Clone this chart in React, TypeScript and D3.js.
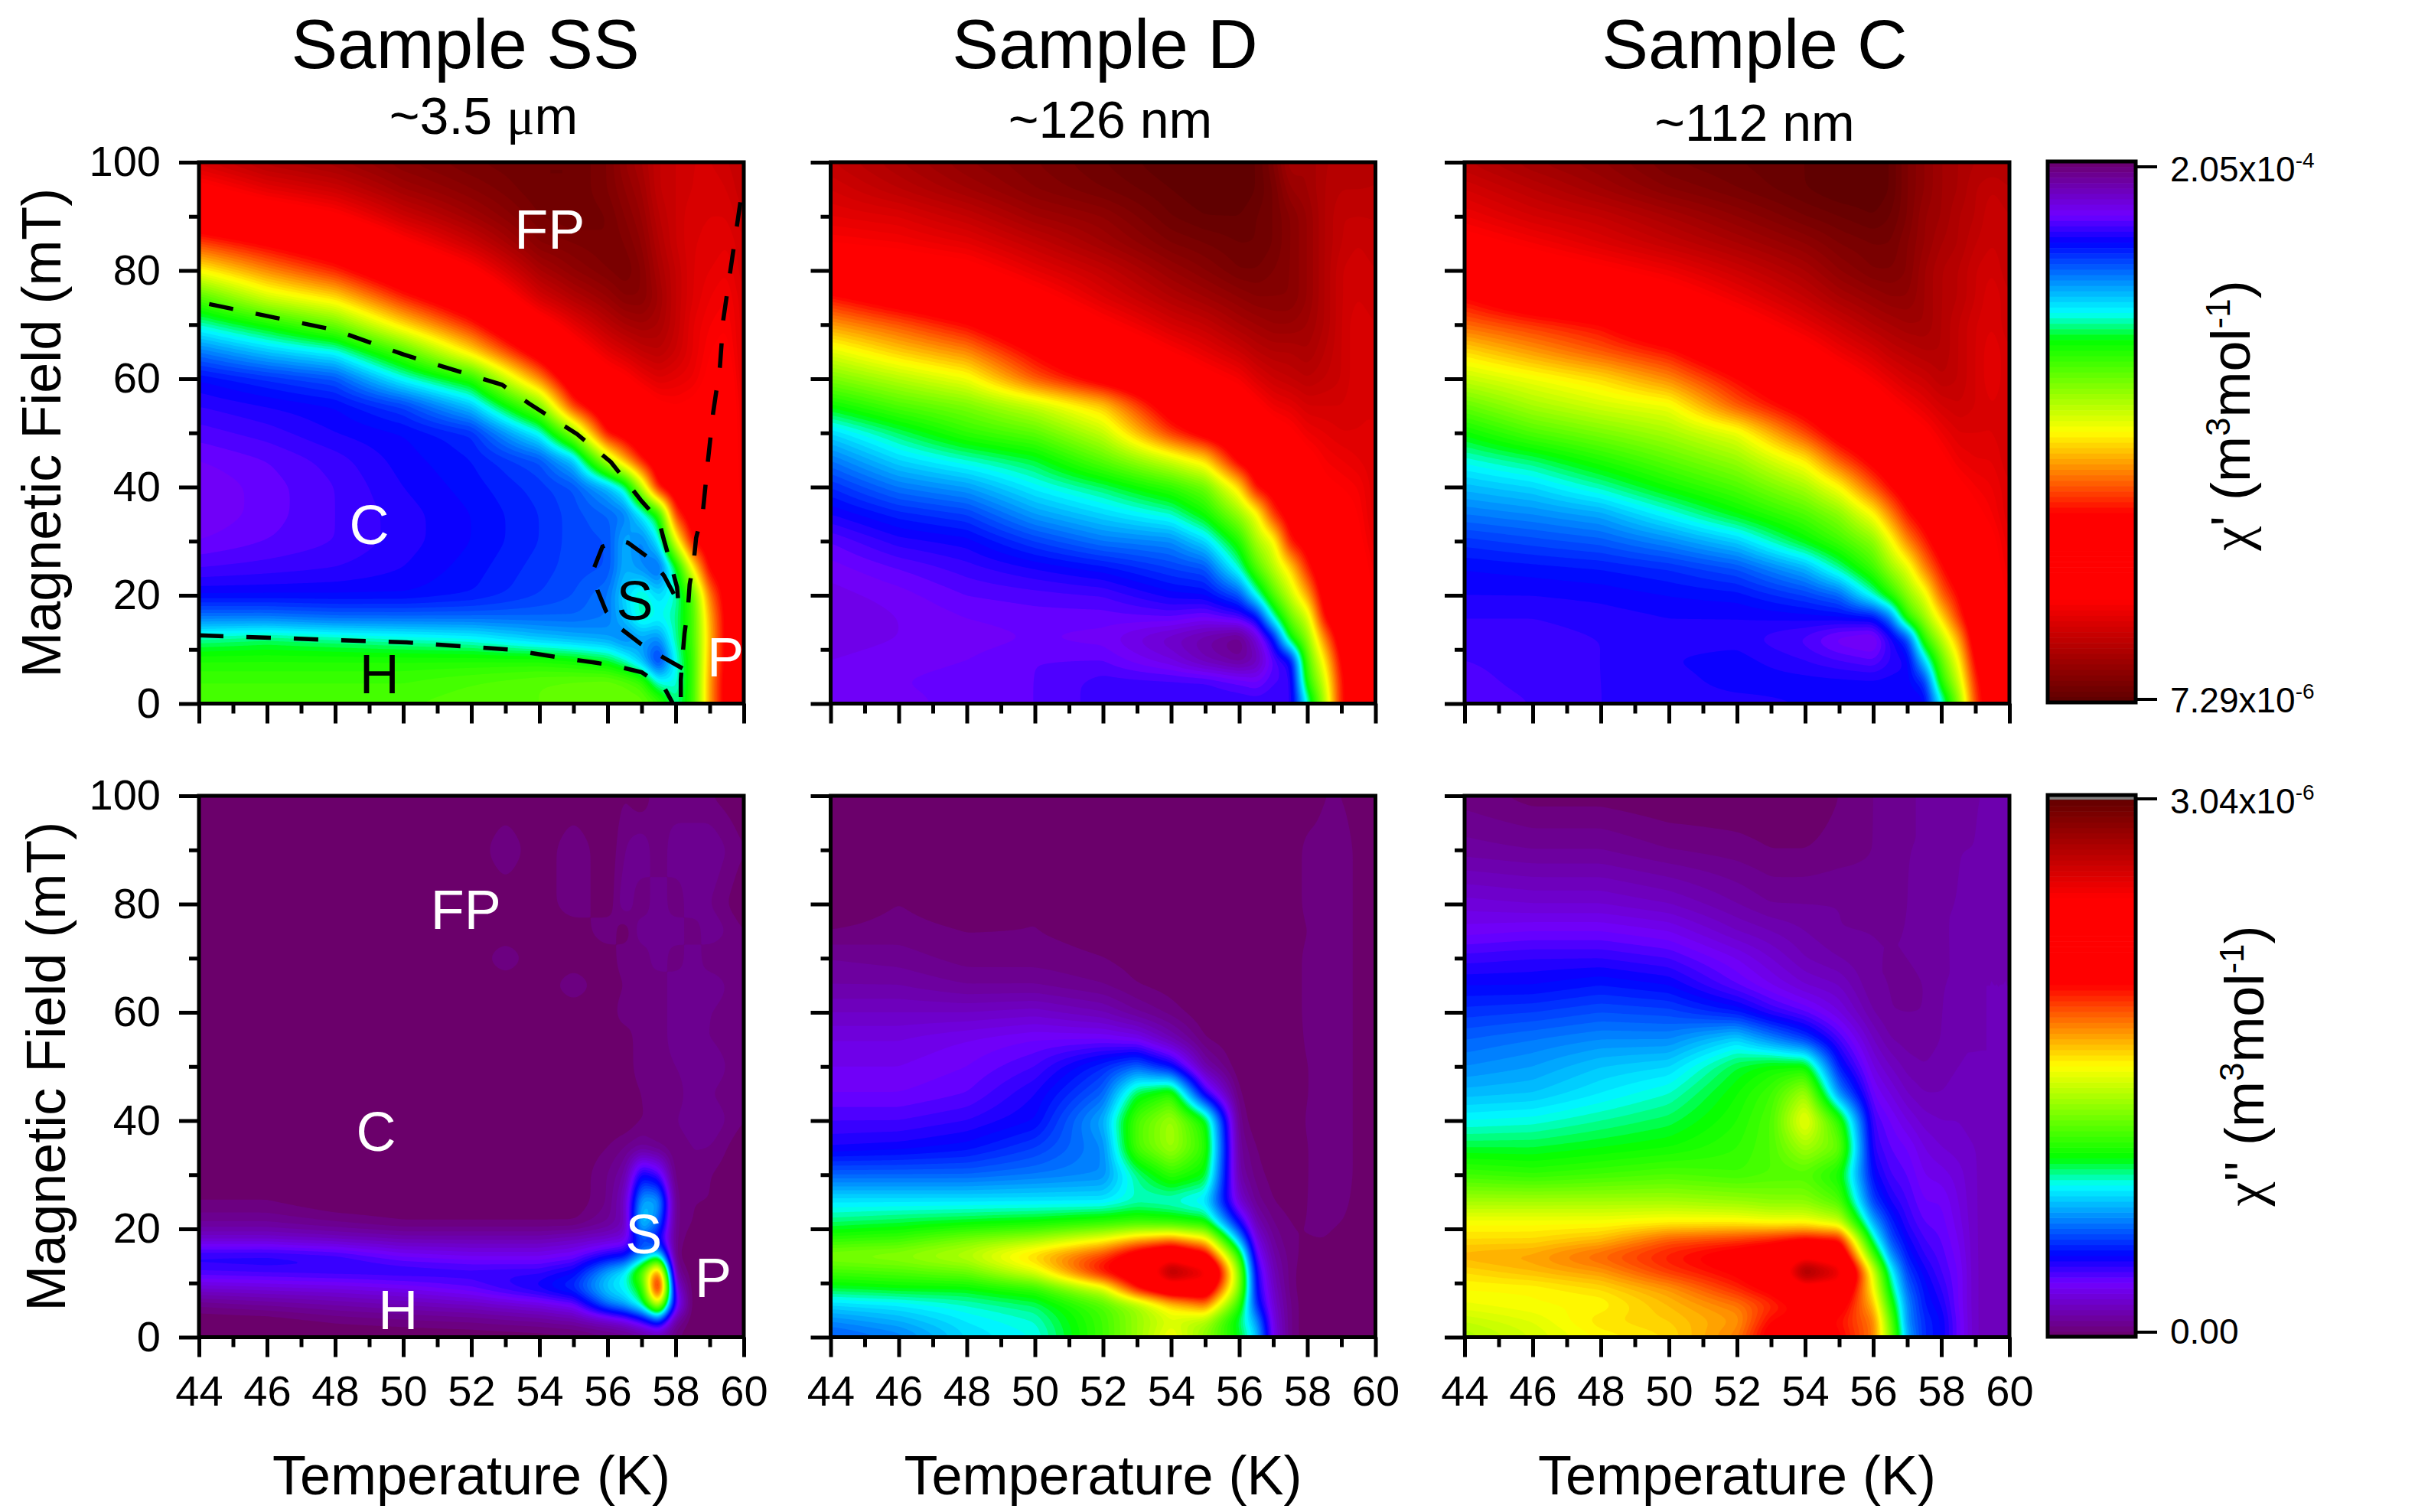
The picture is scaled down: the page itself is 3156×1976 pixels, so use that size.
import { useEffect, useRef } from "react"
import * as d3 from "d3"

// All grid values are positions on the colour bar:
// 0 = purple end, 100 = maroon end. Each inner list is one temperature column, field ascending.
const upperT = [44, 46, 48, 50, 52, 54, 55, 56, 56.5, 57, 57.5, 58, 58.5, 59, 59.5, 60]
const upperB = [0, 4, 8, 12, 16, 20, 25, 30, 35, 40, 45, 50, 55, 60, 65, 70, 75, 80, 85, 90, 95, 100]
const lowerT = [44, 46, 48, 50, 52, 53, 54, 55, 56, 56.5, 57, 57.5, 58, 58.5, 59, 60]
const lowerB = [0, 3, 6, 9, 12, 15, 18, 21, 25, 30, 35, 40, 45, 50, 55, 60, 65, 70, 75, 80, 90, 100]

const realSS = [
  [38, 37, 35, 30, 21, 15, 12, 10, 9, 9, 10, 11.5, 13, 15, 21, 29, 38, 50, 61, 72, 79, 86],
  [38, 37, 35, 31, 21, 15, 12.5, 11, 10.5, 10.5, 11, 12.5, 14, 17, 25, 34, 47, 57, 66, 76, 84, 90],
  [38, 37, 35, 30, 20, 15, 13, 12, 12, 12, 12.5, 14, 15, 19, 28, 40, 52, 63, 71, 80, 87, 92],
  [38, 37, 35, 29, 20, 15, 14, 13.5, 13.5, 14, 14.5, 15, 18, 28, 38, 52, 63, 72, 80, 87, 92, 95],
  [38.5, 38, 35, 28, 20, 16, 15.5, 15, 15, 15.5, 16, 17, 25, 35, 52, 63, 72, 80, 87, 92, 95, 97],
  [39, 39, 35, 25, 20, 18, 17.5, 17, 17, 17.5, 19, 28, 41, 57, 69, 78, 86, 91, 95, 97, 98, 98],
  [39.5, 39.5, 34, 24, 20, 19, 18.5, 18.5, 18.5, 19, 25, 42, 62, 71, 78, 84, 90, 94, 96, 98, 98, 98],
  [40, 40, 32, 23, 21, 21, 19, 19, 20, 24, 45, 65, 72, 78, 84, 89, 93, 96, 97, 97, 96, 96],
  [40, 39, 29, 21, 25, 26, 24, 24, 21, 29, 55, 68, 74, 80, 86, 91, 95, 97, 96, 95, 94, 93],
  [40, 37, 24, 23, 30, 30, 22, 21, 27, 45, 64, 72, 77, 83, 88, 92, 95, 95, 94, 93, 92, 91],
  [38, 28, 16, 22, 28, 26, 19, 27, 34, 65, 70, 75, 80, 85, 89, 91, 92, 91, 90, 89, 88, 88],
  [30, 28, 28, 30, 30, 29, 31, 48, 62, 70, 73, 77, 81, 84, 87, 88, 88, 88, 87, 87, 87, 87],
  [36, 36, 36, 37, 37, 38, 50, 65, 69, 72, 75, 78, 80, 83, 84, 84, 85, 85, 85, 85, 86, 86],
  [56, 56, 55, 54, 55, 58, 66, 69, 71, 73, 75, 77, 78, 80, 81, 82, 83, 84, 85, 85, 85, 86],
  [68, 68, 67, 67, 67, 68, 69, 70, 72, 74, 75, 76, 77, 78, 80, 81, 82, 83, 84, 85, 86, 87],
  [74, 74, 75, 76, 78, 80, 81, 82, 83, 84, 84, 84, 84, 85, 85, 85, 85, 86, 86, 87, 88, 88],
]

const realD = [
  [9, 9.5, 9, 8.5, 8, 8.5, 9.5, 11, 14, 17, 21, 26, 33.5, 41, 48, 56, 64, 75, 81, 84, 86, 88],
  [9.5, 10, 9.5, 9, 9, 9.5, 11, 13.5, 16.5, 21, 26, 31, 38, 45, 53, 60, 69, 77, 82, 85, 89, 91],
  [10.5, 10.5, 10, 9.5, 10, 11, 12.5, 14.5, 18, 23, 29, 36, 41, 49, 57, 65, 73, 79, 84, 88, 92, 94],
  [11, 11, 11, 10, 10.5, 11.5, 14, 18, 23, 27.5, 32, 39, 46, 60, 66, 73, 79, 84, 88, 92, 95, 96],
  [12.5, 12.5, 11, 9.5, 10.5, 12, 15.5, 21, 26, 31, 39, 46, 53, 68, 74, 80, 85, 88, 92, 94, 97, 98],
  [12.5, 12.5, 8, 6, 11, 14.5, 18, 22, 29, 36, 47, 62, 69, 75, 81, 86, 90, 93, 96, 98, 99, 100],
  [12.5, 12.5, 5, 4, 10, 15, 19, 26, 34, 40, 52, 68, 74, 79, 84, 88, 92, 95, 97, 99, 100, 100],
  [13, 11, 3, 1.5, 12, 19, 29, 35, 43, 52, 67, 72, 77, 82, 87, 91, 94, 97, 98, 99, 100, 100],
  [13, 10, 5, 7, 15, 28, 38, 44, 49, 65, 70, 75, 80, 85, 89, 92, 95, 97, 98, 98, 99, 99],
  [13, 12, 11, 15, 29, 38, 45, 49, 62, 68, 73, 78, 83, 87, 90, 93, 95, 96, 97, 97, 97, 96],
  [12, 12, 14, 33, 40, 46, 52, 64, 68, 72, 76, 80, 84, 88, 90, 93, 95, 95, 95, 95, 93, 91],
  [28, 35, 38, 42, 47, 55, 63, 68, 72, 76, 79, 83, 86, 89, 91, 92, 93, 93, 93, 93, 92, 92],
  [44, 47, 51, 57, 65, 68, 71, 74, 77, 80, 82, 84, 86, 88, 89, 90, 90, 90, 90, 90, 90, 90],
  [64, 64, 66, 69, 72, 73, 75, 77, 79, 81, 83, 85, 86, 87, 87, 87, 87, 87, 88, 88, 89, 90],
  [71, 72, 73, 74, 75, 76, 78, 80, 81, 82, 84, 85, 85, 85, 85, 85, 86, 86, 87, 88, 89, 90],
  [78, 78, 79, 80, 81, 82, 83, 84, 85, 85, 85, 85, 85, 86, 86, 86, 87, 87, 88, 88, 89, 89],
]

const realC = [
  [11, 11.5, 12, 12.5, 13, 14, 15, 17.5, 21, 24.5, 28.5, 33.5, 39.5, 46, 52, 59, 65, 73, 79, 83, 86, 89],
  [12, 12.5, 12.5, 12.5, 13, 14, 15.5, 18.5, 22, 26, 31, 38, 44, 49, 56, 62, 71, 77, 82, 86, 89, 92],
  [13, 13, 13, 13, 13.5, 14.3, 16, 19.5, 23.5, 29.5, 35, 41, 47, 52, 60, 65, 74, 80, 85, 88, 92, 94],
  [13.5, 13.5, 14, 13.5, 14, 15, 17, 22, 28, 34, 39, 44, 49, 57, 64, 72, 78, 83, 88, 91, 95, 97],
  [13.5, 14.5, 14.5, 13.5, 14, 15.5, 19, 25.5, 33, 38, 43, 48.5, 60, 65, 72, 78, 83, 87, 91, 94, 97, 98],
  [14, 14.5, 13, 11.5, 14.5, 18, 24, 33, 38, 44, 51, 61, 68, 73, 79, 84, 88, 91, 94, 97, 99, 99],
  [14, 14.5, 12, 9, 15, 20, 30, 37, 42, 50, 60, 68, 73, 78, 83, 87, 91, 94, 96, 98, 100, 100],
  [14, 14.5, 11, 8, 15.5, 29, 37, 42, 50, 60, 67, 72, 77, 82, 86, 90, 93, 96, 97, 99, 100, 100],
  [14, 14.5, 13, 13, 21, 35, 43, 49, 57, 65, 70, 75, 80, 84, 88, 91, 94, 96, 97, 98, 99, 99],
  [14, 14.5, 14, 18, 36, 42, 48, 57, 64, 69, 73, 78, 82, 86, 89, 92, 94, 95, 95, 96, 96, 96],
  [14, 17, 26, 36, 43, 48, 57, 63, 68, 72, 76, 80, 84, 87, 90, 92, 92, 92, 93, 93, 94, 94],
  [27, 35, 39, 45, 52, 59, 64, 69, 73, 76, 80, 83, 86, 89, 90, 90, 90, 90, 91, 92, 92, 92],
  [41, 46, 50, 55, 62, 65, 70, 74, 77, 80, 83, 85, 87, 88, 88, 88, 89, 89, 90, 90, 91, 91],
  [61, 63, 66, 69, 71, 73, 76, 78, 80, 82, 84, 85, 86, 86, 86, 86, 87, 87, 88, 89, 89, 90],
  [71, 71, 73, 74, 75, 77, 79, 80, 82, 83, 84, 85, 85, 84, 84, 85, 85, 86, 87, 87, 88, 90],
  [77, 77, 78, 79, 80, 82, 83, 84, 85, 85, 86, 86, 86, 86, 86, 87, 87, 88, 88, 88, 89, 90],
]

// these two are typed as rows, top of the plot first
const imagSSRows = [
  [0, 0, 0, 0, 0, 0, 0, 0, 0, 1, 0, 2, 1, 2, 1, 0],
  [0, 0, 0, 0, 0, 2, 0, 2, 0, 2, 3, 1, 3, 2, 3, 1],
  [0, 0, 0, 0, 0, 0, 0, 2, 0, 3, 1, 3, 1, 3, 2, 0],
  [0, 0, 0, 0, 0, 0, 0, 0, 2, 0, 3, 2, 3, 1, 3, 1],
  [0, 0, 0, 0, 0, 2, 0, 0, 0, 2, 1, 3, 1, 3, 1, 1],
  [0, 0, 0, 0, 0, 0, 0, 2, 0, 1, 2, 1, 3, 2, 3, 1],
  [0, 0, 0, 0, 0, 0, 0, 0, 0, 2, 1, 2, 2, 3, 2, 1],
  [0, 0, 0, 0, 0, 0, 0, 0, 0, 0, 2, 1, 3, 2, 2, 1],
  [0, 0, 0, 0, 0, 0, 0, 0, 0, 0, 2, 1, 2, 3, 3, 1],
  [0, 0, 0, 0, 0, 0, 0, 0, 0, 0, 1, 2, 1, 3, 2, 1],
  [0, 0, 0, 0, 0, 0, 0, 0, 0, 0, 1, 1, 2, 3, 3, 1],
  [0, 0, 0, 0, 0, 0, 0, 0, 1, 2, 3, 2, 1, 2, 2, 0],
  [0, 0, 0, 0, 0, 0, 0, 0, 2, 4, 15, 12, 1, 2, 1, 0],
  [1, 1, 0, 0, 0, 0, 0, 0, 2, 6, 24, 24, 2, 1, 1, 0],
  [3, 3, 2, 1, 1, 1, 1, 1, 3, 5, 27, 20, 2, 1, 0, 0],
  [7, 7, 6, 5, 5, 5, 5, 6, 7, 8, 18, 14, 2, 0, 0, 0],
  [14, 14, 13, 10, 9, 9, 9, 10, 14, 15, 22, 28, 1, 0, 0, 0],
  [12, 12.5, 13, 13.5, 13, 13, 13, 15, 24, 28, 40, 62, 3, 0, 0, 0],
  [7, 7.5, 8, 9, 11, 13, 15, 18, 26, 28, 34, 72, 8, 0, 0, 0],
  [2, 3, 4, 5, 6, 7, 8, 10, 21, 24, 30, 48, 12, 0, 0, 0],
  [0, 0, 1, 1.5, 2, 2.5, 3, 4, 6, 8, 12, 18, 3, 0, 0, 0],
  [0, 0, 0, 0, 0, 0, 0, 0, 1, 1, 2, 3, 1, 0, 0, 0],
]

const imagDRows = [
  [0, 0, 0, 0, 0, 0, 0, 0, 0, 0, 0, 0, 0, 1, 1, 0],
  [0, 0, 0, 0, 0, 0, 0, 0, 0, 0, 0, 0, 1.5, 1.5, 1.5, 0],
  [0, 1, 0, 1, 0, 0, 0, 0, 0, 0, 0, 0, 1.5, 2, 1.5, 0],
  [1, 1.5, 1, 1, 0.5, 0, 0, 0, 0, 0, 0, 0, 1, 1.5, 1.5, 0],
  [3, 2.5, 1.5, 1.5, 1, 0.5, 0, 0, 0, 0, 0, 0, 1.5, 1.5, 1.5, 0],
  [4, 4, 3, 3, 2, 1, 0.5, 0, 0, 0, 0, 0, 1.5, 1.5, 1.5, 0],
  [6, 6, 6, 6.5, 5, 3, 1.5, 0, 0, 0, 0, 0, 1.5, 1.5, 1.5, 0],
  [8, 8, 9, 10, 10, 9, 5, 1, 0, 0, 0, 0, 1.3, 1.5, 1.5, 0],
  [9, 9, 10, 12, 17, 20, 15, 4, 0, 0, 0, 0, 1, 1.5, 1.5, 0],
  [10, 10, 11, 14, 20, 32, 36, 13, 1, 0, 0, 0, 1, 1.5, 1.5, 0],
  [12, 12, 13, 15, 24, 38, 44, 34, 2, 0, 0, 0, 1.2, 1.5, 1.5, 0],
  [14, 14.5, 15.5, 18, 22, 38, 44, 36, 3, 1, 0, 0, 1, 1.5, 1.5, 0],
  [20, 20, 20, 21, 22, 30, 36, 33, 4, 1.5, 0.5, 0, 1, 1.5, 1.5, 0],
  [27, 27, 27, 27, 27, 29, 28, 26, 7, 2.5, 1, 0.5, 1, 1.5, 1.3, 0],
  [31, 32, 33, 34, 36, 37, 36, 34, 15, 5, 2, 1, 1, 1.3, 1, 0],
  [36, 37, 41, 44, 50, 55, 58, 52, 24, 8, 3, 1, 1, 1, 0.5, 0],
  [42, 43, 46, 54, 62, 70, 76, 68, 36, 11, 4, 1.5, 0.5, 0.5, 0, 0],
  [37, 38, 40, 48, 66, 72, 94, 86, 42, 14, 5, 1.5, 0, 0, 0, 0],
  [32, 33, 33, 36, 47, 65, 74, 74, 42, 15, 6, 1.5, 0, 0, 0, 0],
  [26, 27, 29, 31, 38, 43, 52, 58, 36, 17, 7, 2, 0, 0, 0, 0],
  [22, 24, 27, 29, 37, 43, 47, 44, 31, 23, 8, 2, 0, 0, 0, 0],
  [19, 21, 26, 28, 37, 43, 50, 42, 33, 26, 9, 2, 0, 0, 0, 0],
]

const imagC = [
  [44, 46, 49, 50, 52, 55, 52, 50, 44, 37, 32, 28, 24.5, 22, 20, 17.5, 15, 12.5, 9.5, 7.5, 3.5, 1.5],
  [47, 48, 50, 50, 54, 56, 52, 50, 44, 36, 32, 28.5, 25, 23, 21, 18, 15, 13, 10, 7, 3, 0.5],
  [50, 52, 50, 52, 56, 60, 54, 50, 44, 37, 33, 30, 27, 25, 22, 19, 16, 13, 10, 7, 3, 0.5],
  [52, 53, 54, 56, 62, 64, 60, 51, 44, 38, 34, 31.5, 29, 26, 22, 18.5, 15, 12, 9, 6, 2, 0],
  [58, 56, 58, 63, 66, 68, 62, 51, 43, 37, 36, 35, 34, 32, 26, 16, 11, 9, 6, 4, 1.5, 0],
  [68, 65, 62, 67, 70, 70, 64, 50, 42, 38, 38, 38, 37, 34, 22, 13, 9, 7, 5, 3, 1, 0],
  [68, 68, 66, 76, 96, 78, 66, 50, 42, 38, 44, 50, 44, 34, 18, 11, 7, 5, 4, 3, 1, 0],
  [66, 64, 68, 76, 86, 74, 65, 47, 38, 34, 40, 36, 22, 16, 12, 8, 6, 4, 3, 3, 1.5, 1],
  [58, 58, 54, 50, 48, 38, 30, 24, 18, 15, 13, 12, 10, 8, 6, 4, 3, 3, 3, 2.5, 2, 2],
  [42, 40, 36, 32, 29, 23, 19, 17, 14, 12, 11, 10, 8, 6, 4, 3, 3, 3, 3, 2.5, 2.5, 2.5],
  [24, 22, 22, 20, 18, 16, 14.5, 13, 12, 11, 10, 8, 6, 4.5, 3.5, 3, 2.5, 3, 3, 3, 3, 3],
  [17, 17, 16, 15.5, 14.5, 13, 12, 11, 10, 9, 8, 6.5, 5, 4, 3.5, 3, 3, 3.5, 4, 3.5, 3, 3],
  [15, 15, 14, 13, 12, 11.5, 11, 10.5, 10, 8.5, 7, 6, 5, 4.5, 4, 4, 4, 4, 4, 4, 3.5, 3.5],
  [10.5, 10.5, 10, 10, 10, 9.5, 9, 8.5, 8, 7.5, 6.5, 6, 5.5, 5, 5, 4.5, 4, 4, 4, 4, 4, 3.5],
  [6, 6, 6, 6, 6, 6, 6, 6, 6, 6, 6, 5.5, 5.5, 5, 5, 5, 5, 5, 4.5, 4.5, 4, 4],
  [5, 5, 5, 5, 5, 5, 5, 5, 5, 5, 5, 5, 5, 5, 5, 5, 5, 5, 5, 5, 4.5, 4],
]

// phase boundaries on the first panel, [temperature, field]
const boundaryFP: [number, number][] = [[44.3, 73.8], [48, 69], [50, 64.5], [52.9, 58.9], [53.7, 55.4], [55.1, 49.8], [56.1, 44.6], [57, 37.4], [57.5, 33.9], [57.66, 30.1], [57.85, 25.9], [58.04, 21.5], [58.1, 17.3]]
const boundaryP: [number, number][] = [[59.9, 92.6], [59.6, 79.7], [59.4, 71], [59.3, 62.3], [59.1, 53.7], [58.95, 45], [58.8, 35.5], [58.6, 30.6], [58.53, 26.2], [58.41, 22], [58.36, 17.5], [58.26, 13], [58.2, 8.6], [58.15, 4.4], [58.15, 0]]
const boundaryH: [number, number][] = [[44, 12.6], [50.1, 11.3], [53.1, 10], [54.9, 8.2], [55.6, 7.6], [56.26, 6.9], [57, 5.8], [57.66, 3], [57.92, 0]]
const boundaryS: [number, number][] = [[58.2, 6.5], [57.67, 8.4], [56.98, 11], [56.4, 13.8], [55.96, 17], [55.7, 21], [55.6, 25], [55.85, 29], [56.3, 30.2], [56.6, 29.7], [57.28, 26.6], [57.66, 23.6], [58, 19.6]]

const colourStops = [0, 10, 15, 28, 33, 50, 65, 81, 100]
const colourValues = ["#6b006b", "#7000ff", "#0000ff", "#00ffff", "#00ff00", "#ffff00", "#ff0000", "#ff0000", "#5c0000"]

const upperLabels: [string, number, number, string][] = [["FP", 54.3, 87.5, "#fff"], ["C", 49, 33, "#fff"], ["S", 56.8, 19, "#000"], ["H", 49.3, 5.4, "#000"], ["P", 59.46, 8.5, "#fff"]]
const lowerLabels: [string, number, number, string][] = [["FP", 51.84, 79, "#fff"], ["C", 49.2, 38, "#fff"], ["S", 57.06, 19, "#fff"], ["H", 49.85, 5, "#fff"], ["P", 59.1, 11, "#fff"]]

const sampleNames = ["Sample SS", "Sample D", "Sample C"]
const sampleSizes = ["~3.5 ", "~126 nm", "~112 nm"]
const xMajor = d3.range(44, 61, 2)
const xMinor = d3.range(45, 60, 2)
const yMajor = d3.range(0, 101, 20)
const yMinor = d3.range(10, 100, 20)

const FONT = "'Liberation Sans', Arial, sans-serif"
const GRID = 320

function sampleField(cols: number[][], tVals: number[], bVals: number[]) {
  const ti = d3.scaleLinear().domain(tVals).range(d3.range(tVals.length)).clamp(true)
  const bi = d3.scaleLinear().domain(bVals).range(d3.range(bVals.length)).clamp(true)
  const data = new Float64Array(GRID * GRID)
  for (let j = 0; j < GRID; j++) {
    const v = bi(100 * (1 - (j + 0.5) / GRID))
    const v0 = Math.min(Math.floor(v), bVals.length - 2)
    for (let i = 0; i < GRID; i++) {
      const u = ti(44 + (16 * (i + 0.5)) / GRID)
      const u0 = Math.min(Math.floor(u), tVals.length - 2)
      const a = cols[u0][v0] * (1 - (v - v0)) + cols[u0][v0 + 1] * (v - v0)
      const b = cols[u0 + 1][v0] * (1 - (v - v0)) + cols[u0 + 1][v0 + 1] * (v - v0)
      data[i + j * GRID] = a * (1 - (u - u0)) + b * (u - u0)
    }
  }
  d3.blur2({ data, width: GRID, height: GRID }, 1.5, 3)
  return Array.from(data)
}

export default function App() {
  const svgRef = useRef<SVGSVGElement>(null)

  useEffect(() => {
    const svg = d3.select(svgRef.current)
    svg.selectAll("*").remove()
    svg.attr("font-family", FONT).style("background", "#fff")

    const colX = [260, 1085.5, 1914]
    const rowY = [212, 1040]
    const w = 712
    const h = 707.5

    const colour = d3.scaleLinear<string>().domain(colourStops).range(colourValues).interpolate(d3.interpolateRgb)
    const thresholds = d3.range(1, 100, 1)
    const pathGen = d3.geoPath()

    const panels = [
      { cols: realSS, t: upperT, b: upperB, c: 0, r: 0 },
      { cols: realD, t: upperT, b: upperB, c: 1, r: 0 },
      { cols: realC, t: upperT, b: upperB, c: 2, r: 0 },
      { cols: d3.transpose<number>([...imagSSRows].reverse()), t: lowerT, b: lowerB, c: 0, r: 1 },
      { cols: d3.transpose<number>([...imagDRows].reverse()), t: lowerT, b: lowerB, c: 1, r: 1 },
      { cols: imagC, t: lowerT, b: lowerB, c: 2, r: 1 },
    ]

    panels.forEach((p) => {
      const x0 = colX[p.c]
      const y0 = rowY[p.r]
      const x = d3.scaleLinear().domain([44, 60]).range([x0, x0 + w])
      const y = d3.scaleLinear().domain([0, 100]).range([y0 + h, y0])

      // Filled contours
      const values = sampleField(p.cols, p.t, p.b)
      const contours = d3.contours().size([GRID, GRID]).thresholds(thresholds)(values)
      const g = svg.append("g").attr("transform", `translate(${x0},${y0}) scale(${w / GRID},${h / GRID})`)
      g.append("rect").attr("width", GRID).attr("height", GRID).attr("fill", colour(0))
      g.selectAll("path")
        .data(contours)
        .join("path")
        .attr("d", (d) => pathGen(d))
        .attr("fill", (d) => colour(d.value + 0.5))

      // Phase boundaries and region letters on the first column
      if (p.c === 0 && p.r === 0) {
        const line = d3.line<[number, number]>().x((d) => x(d[0])).y((d) => y(d[1]))
        ;[boundaryFP, boundaryP, boundaryH, boundaryS].forEach((b) => {
          svg.append("path")
            .datum(b)
            .attr("d", line)
            .attr("fill", "none")
            .attr("stroke", "#000")
            .attr("stroke-width", 5.5)
            .attr("stroke-dasharray", "32 30")
        })
      }
      if (p.c === 0) {
        const labels = p.r === 0 ? upperLabels : lowerLabels
        labels.forEach(([t, lx, ly, col]) => {
          svg.append("text")
            .attr("x", x(lx))
            .attr("y", y(ly))
            .attr("text-anchor", "middle")
            .attr("dominant-baseline", "central")
            .attr("font-size", 72)
            .attr("fill", col)
            .text(t)
        })
      }

      // Frame
      svg.append("rect")
        .attr("x", x0)
        .attr("y", y0)
        .attr("width", w)
        .attr("height", h)
        .attr("fill", "none")
        .attr("stroke", "#000")
        .attr("stroke-width", 5)

      // Axes
      const styleAxis = (sel: d3.Selection<SVGGElement, unknown, null, undefined>) => {
        sel.select(".domain").remove()
        sel.selectAll("line").attr("stroke", "#000").attr("stroke-width", 5)
        sel.selectAll("text").attr("fill", "#000").attr("font-size", 56).attr("font-family", FONT)
      }
      const bottom = svg.append("g").attr("transform", `translate(0,${y0 + h})`) as any
      bottom.call(
        d3.axisBottom(x).tickValues(xMajor).tickSize(26).tickPadding(24).tickFormat((d) => (p.r === 1 ? String(d) : "")),
      ).call(styleAxis)
      const bottomMinor = svg.append("g").attr("transform", `translate(0,${y0 + h})`) as any
      bottomMinor.call(d3.axisBottom(x).tickValues(xMinor).tickSize(13).tickFormat(() => "")).call(styleAxis)
      const left = svg.append("g").attr("transform", `translate(${x0},0)`) as any
      left.call(
        d3.axisLeft(y).tickValues(yMajor).tickSize(26).tickPadding(24).tickFormat((d) => (p.c === 0 ? String(d) : "")),
      ).call(styleAxis)
      const leftMinor = svg.append("g").attr("transform", `translate(${x0},0)`) as any
      leftMinor.call(d3.axisLeft(y).tickValues(yMinor).tickSize(13).tickFormat(() => "")).call(styleAxis)

      // Axis titles
      if (p.r === 1) {
        svg.append("text")
          .attr("x", x0 + w / 2)
          .attr("y", 1953)
          .attr("text-anchor", "middle")
          .attr("font-size", 72)
          .text("Temperature (K)")
      }
      if (p.c === 0) {
        svg.append("text")
          .attr("transform", `translate(${p.r === 0 ? 79 : 85},${y0 + h / 2}) rotate(-90)`)
          .attr("text-anchor", "middle")
          .attr("font-size", 72)
          .text("Magnetic Field (mT)")
      }
    })

    // Column headings
    const headX = [608, 1444, 2293]
    const subX = [632, 1451, 2293]
    const subY = [175, 180, 184]
    sampleNames.forEach((name, i) => {
      svg.append("text").attr("x", headX[i]).attr("y", 89).attr("text-anchor", "middle").attr("font-size", 91).text(name)
      const sub = svg.append("text").attr("x", subX[i]).attr("y", subY[i]).attr("text-anchor", "middle").attr("font-size", 68).text(sampleSizes[i])
      if (i === 0) {
        sub.append("tspan").attr("font-family", "'Liberation Serif', serif").text("μ")
        sub.append("tspan").text("m")
      }
    })

    // Colour bars: the real part runs purple at the top, the imaginary part maroon at the top
    const bars = [
      { top: 211, bottom: 918, flip: false, tickTop: 218, tickBottom: 914, hi: ["2.05x10", "-4"], lo: ["7.29x10", "-6"], hiY: 237, loY: 931, axis: "'", labelX: 2940, labelY: 543 },
      { top: 1039, bottom: 1747, flip: true, tickTop: 1044, tickBottom: 1741, hi: ["3.04x10", "-6"], lo: ["0.00", ""], hiY: 1063, loY: 1756, axis: "''", labelX: 2958, labelY: 1393 },
    ]
    bars.forEach((b) => {
      const barY = d3.scaleLinear().domain(b.flip ? [0, 100] : [100, 0]).range([b.bottom, b.top])
      const g = svg.append("g")
      g.selectAll("rect")
        .data(d3.range(0, 100))
        .join("rect")
        .attr("x", 2676)
        .attr("width", 115)
        .attr("y", (d) => Math.min(barY(d), barY(d + 1)))
        .attr("height", Math.abs(barY(0) - barY(1)) + 0.6)
        .attr("fill", (d) => colour(d + 0.5))
      if (b.flip) {
        svg.append("rect").attr("x", 2676).attr("y", b.top).attr("width", 115).attr("height", 6).attr("fill", "#808080")
      }
      svg.append("rect")
        .attr("x", 2676)
        .attr("y", b.top)
        .attr("width", 115)
        .attr("height", b.bottom - b.top)
        .attr("fill", "none")
        .attr("stroke", "#000")
        .attr("stroke-width", 5)
      ;[b.tickTop, b.tickBottom].forEach((ty) => {
        svg.append("line").attr("x1", 2791).attr("x2", 2819).attr("y1", ty).attr("y2", ty).attr("stroke", "#000").attr("stroke-width", 4)
      })
      ;[
        [b.hi, b.hiY],
        [b.lo, b.loY],
      ].forEach(([txt, ty]: any) => {
        const t = svg.append("text").attr("x", 2836).attr("y", ty).attr("font-size", 46).text(txt[0])
        if (txt[1]) t.append("tspan").attr("dy", -18).attr("font-size", 28).text(txt[1])
      })
      const lab = svg.append("text")
        .attr("transform", `translate(${b.labelX},${b.labelY}) rotate(-90)`)
        .attr("text-anchor", "middle")
        .attr("font-size", 72)
      lab.append("tspan").attr("font-family", "'Liberation Serif', serif").text("χ")
      lab.append("tspan").text(`${b.axis} (m`)
      lab.append("tspan").attr("dy", -26).attr("font-size", 44).text("3")
      lab.append("tspan").attr("dy", 26).text("mol")
      lab.append("tspan").attr("dy", -26).attr("font-size", 44).text("-1")
      lab.append("tspan").attr("dy", 26).text(")")
    })
  }, [])

  return <svg ref={svgRef} width={3156} height={1976} style={{ position: "absolute", left: 0, top: 0 }} />
}
